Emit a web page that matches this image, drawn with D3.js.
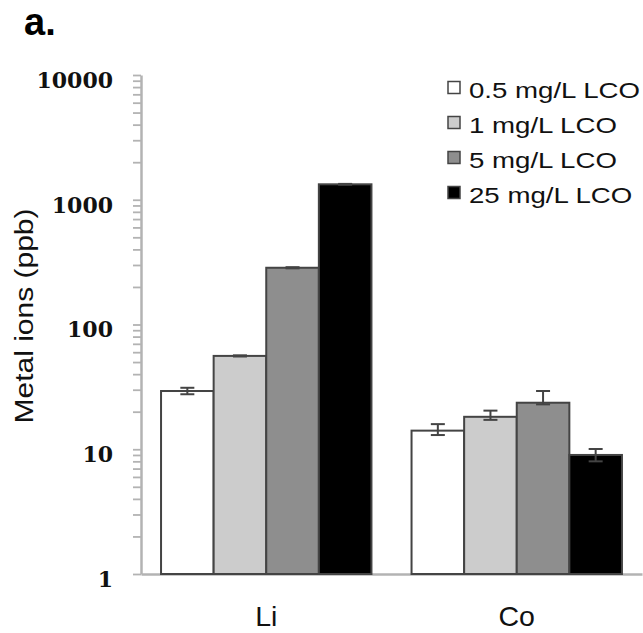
<!DOCTYPE html>
<html lang='en'>
  <head>
    <meta charset='utf-8'>
    <style type='text/css'>
      body {margin: 0; background-color: #fff;}
      svg {display: block;}
      .sans {font-family: 'Liberation Sans', Arial, sans-serif;}
      .serif {font-family: 'DejaVu Serif', serif; font-weight: bold;}
    </style>
  </head>
  <body>
    <svg id='chart' width='643' height='633'></svg>
    <script src='https://d3js.org/d3.v7.min.js'></script>
    <script type='text/javascript'>
        // Chart data
        var metals   = ["Li", "Co"];
        var doses    = ["0.5 mg/L LCO", "1 mg/L LCO", "5 mg/L LCO", "25 mg/L LCO"];
        var liValues = [29.3, 56, 285, 1330];
        var liPlus   = [1.8, 0.6, 3, 10];
        var liMinus  = [1.7, 0.6, 3, 10];
        var coValues = [14.1, 18.2, 23.6, 9.0];
        var coPlus   = [1.8, 2.2, 5.7, 1.05];
        var coMinus  = [1.1, 1.0, 0.7, 1.0];
        var yTickLabels = [1, 10, 100, 1000, 10000];
        var fills = ["#ffffff", "#cccccc", "#8e8e8e", "#000000"];

        var svg = d3.select("#chart");

        // Build rows from the arrays
        var rows = metals.map(function(m, i) {
          var vals  = i === 0 ? liValues : coValues;
          var plus  = i === 0 ? liPlus : coPlus;
          var minus = i === 0 ? liMinus : coMinus;
          return {
            metal: m,
            bars: doses.map(function(d, j) {
              return {dose: d, value: vals[j], hi: vals[j] + plus[j], lo: vals[j] - minus[j]};
            })
          };
        });

        // Scales
        var y = d3.scaleLog().domain([1, 10000]).range([574, 75]);
        var x0 = d3.scaleBand().domain(metals).range([141, 642])
            .paddingInner(0.16).paddingOuter(0.08);
        var x1 = d3.scaleBand().domain(doses).range([0, x0.bandwidth()]);
        var color = d3.scaleOrdinal().domain(doses).range(fills);

        // Y axis with minor ticks
        var tickVals = [];
        for (var dec = 0; dec < 4; dec++) {
          for (var k = 1; k < 10; k++) tickVals.push(k * Math.pow(10, dec));
        }
        tickVals.push(10000);

        var yAxis = svg.append("g")
            .attr("transform", "translate(141,0)")
            .call(d3.axisLeft(y)
              .tickValues(tickVals)
              .tickSize(8)
              .tickSizeOuter(0)
              .tickPadding(20)
              .tickFormat(function(d) { return yTickLabels.indexOf(d) >= 0 ? d : ""; }));
        yAxis.select(".domain").attr("stroke", "#b3b3b3").attr("stroke-width", 2.5);
        yAxis.selectAll(".tick line").attr("stroke", "#b3b3b3").attr("stroke-width", 1.8);
        yAxis.selectAll(".tick text")
            .attr("class", "serif")
            .attr("font-size", 22)
            .attr("fill", "#111")
            .attr("dy", "0.56em");

        // X axis
        var xAxis = svg.append("g")
            .attr("transform", "translate(0,574)")
            .call(d3.axisBottom(x0).tickSize(0).tickSizeOuter(0));
        xAxis.select(".domain").attr("stroke", "#b3b3b3").attr("stroke-width", 2.5);
        xAxis.selectAll(".tick text")
            .attr("class", "sans")
            .attr("font-size", 28.5)
            .attr("fill", "#111")
            .attr("y", 52)
            .attr("dy", 0);

        // Bars
        var groups = svg.append("g").selectAll("g")
          .data(rows)
          .join("g")
            .attr("transform", function(d) { return "translate(" + x0(d.metal) + ",0)"; });

        groups.selectAll("rect")
          .data(function(d) { return d.bars; })
          .join("rect")
            .attr("x", function(d) { return x1(d.dose); })
            .attr("y", function(d) { return y(d.value); })
            .attr("width", x1.bandwidth())
            .attr("height", function(d) { return y(1) - y(d.value); })
            .attr("fill", function(d) { return color(d.dose); })
            .attr("stroke", "#444")
            .attr("stroke-width", 2);

        // Error bars
        var err = groups.selectAll("g.err")
          .data(function(d) { return d.bars; })
          .join("g")
            .attr("class", "err")
            .attr("stroke", "#444")
            .attr("stroke-width", 2)
            .attr("transform", function(d) { return "translate(" + (x1(d.dose) + x1.bandwidth() / 2) + ",0)"; });
        err.append("line")
            .attr("y1", function(d) { return y(d.lo); })
            .attr("y2", function(d) { return y(d.hi); });
        err.append("line")
            .attr("x1", -7).attr("x2", 7)
            .attr("y1", function(d) { return y(d.hi); })
            .attr("y2", function(d) { return y(d.hi); });
        err.append("line")
            .attr("x1", -7).attr("x2", 7)
            .attr("y1", function(d) { return y(d.lo); })
            .attr("y2", function(d) { return y(d.lo); });

        // Y axis title
        svg.append("text")
            .attr("class", "sans")
            .attr("transform", "translate(33,316) rotate(-90)")
            .attr("text-anchor", "middle")
            .attr("font-size", 25.5)
            .attr("fill", "#111")
            .attr("textLength", 215)
            .attr("lengthAdjust", "spacingAndGlyphs")
            .text("Metal ions (ppb)");

        // Panel letter
        svg.append("text")
            .attr("class", "sans")
            .attr("x", 24).attr("y", 35)
            .attr("font-size", 38)
            .attr("font-weight", "bold")
            .attr("fill", "#000")
            .text("a.");

        // Legend
        var legend = svg.append("g").selectAll("g")
          .data(doses)
          .join("g")
            .attr("transform", function(d, i) { return "translate(448," + (98 + i * 35) + ")"; });
        legend.append("rect")
            .attr("x", 0).attr("y", -16.5)
            .attr("width", 12).attr("height", 12)
            .attr("fill", function(d) { return color(d); })
            .attr("stroke", "#444")
            .attr("stroke-width", 1.5);
        legend.append("text")
            .attr("class", "sans")
            .attr("transform", "translate(21,0) scale(1.285,1)")
            .attr("font-size", 21.5)
            .attr("fill", "#111")
            .text(function(d) { return d; });
    </script>
  </body>
</html>
